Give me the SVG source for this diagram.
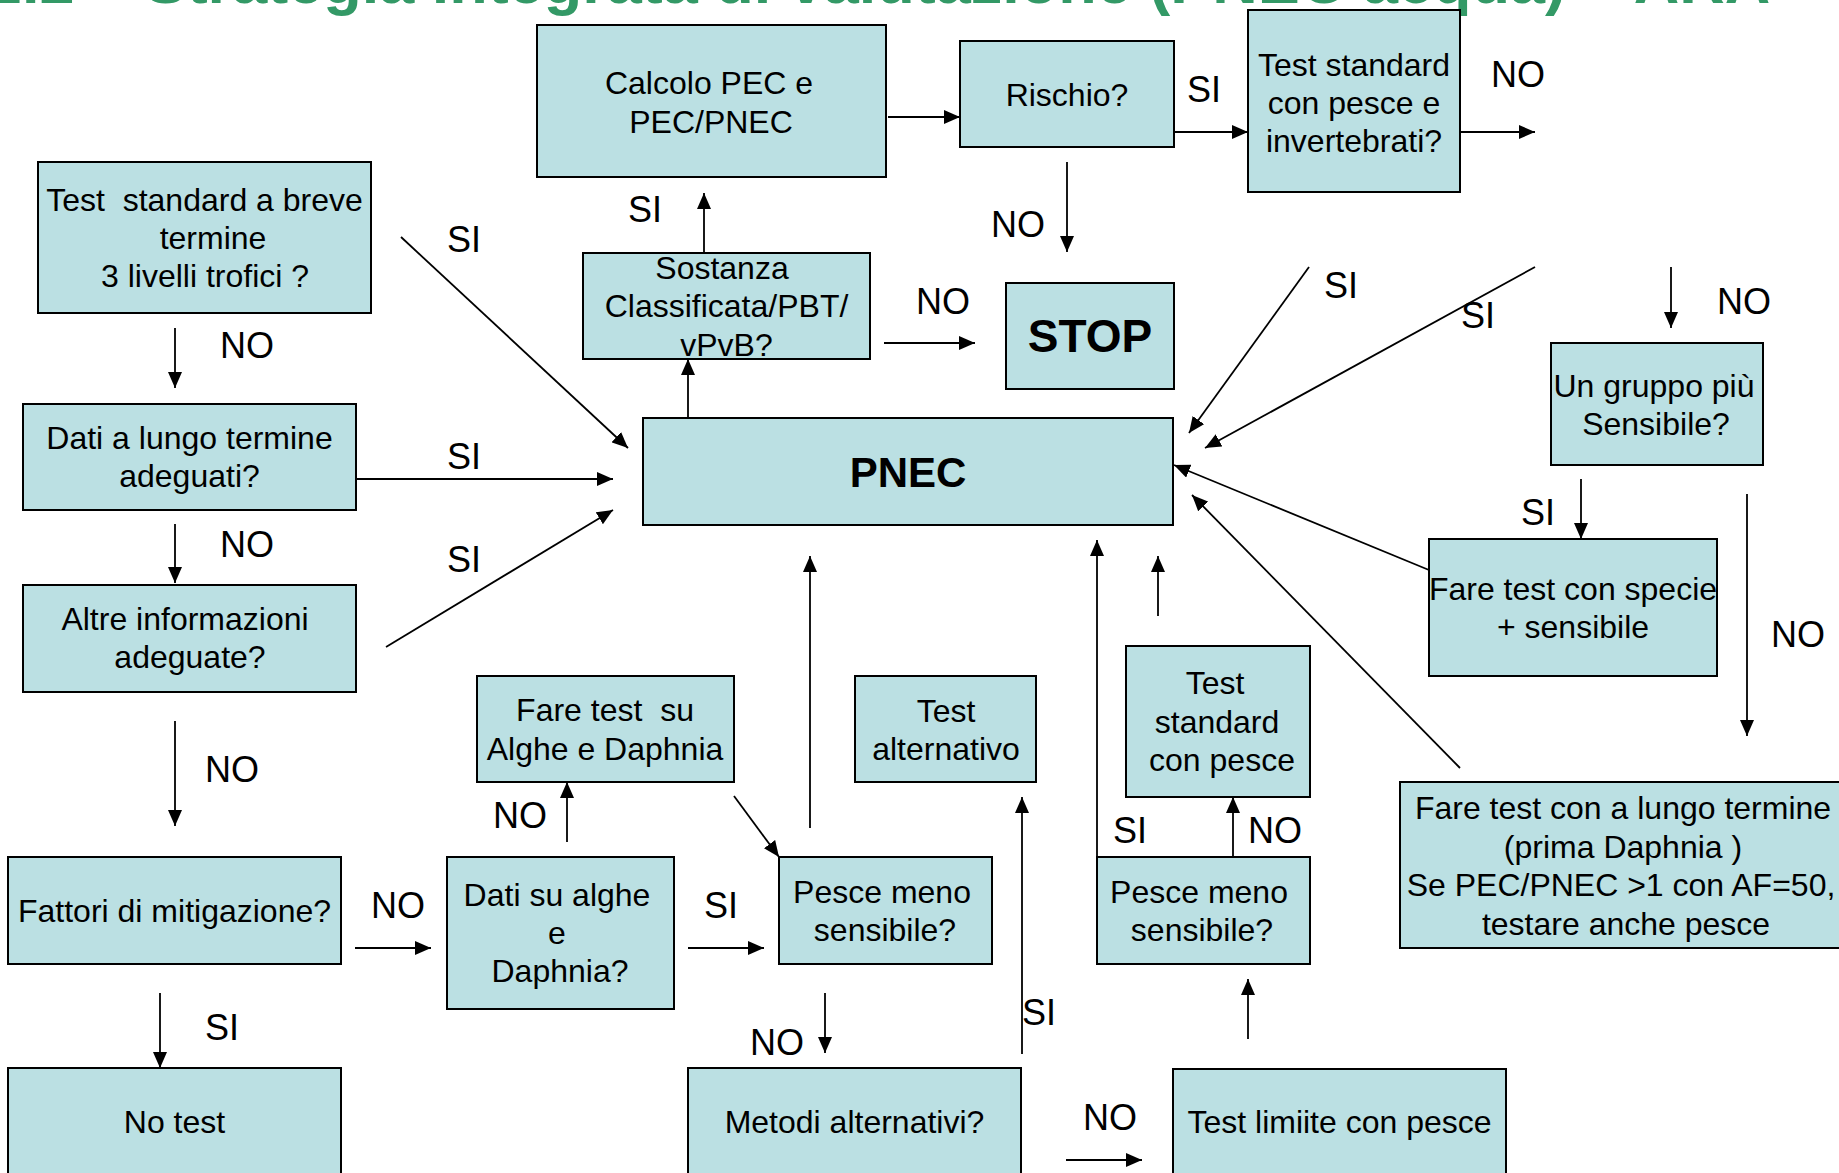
<svg xmlns="http://www.w3.org/2000/svg" width="1839" height="1173" viewBox="0 0 1839 1173">
<defs>
<style>
.box{fill:#BBE0E3;stroke:#000;stroke-width:2}
.t{font-family:"Liberation Sans",Arial,sans-serif;font-size:32px;fill:#000;text-anchor:middle}
.b{font-family:"Liberation Sans",Arial,sans-serif;font-weight:bold;fill:#000;text-anchor:middle}
.lbl{font-family:"Liberation Sans",Arial,sans-serif;font-size:36px;fill:#000}
.ln{stroke:#000;stroke-width:1.8;fill:none}
.a{marker-end:url(#ah)}
.title{font-family:"Liberation Sans",Arial,sans-serif;font-weight:bold;font-size:63px;fill:#339966}
</style>
<marker id="ah" markerUnits="userSpaceOnUse" markerWidth="16" markerHeight="14" refX="16" refY="7" orient="auto">
<path d="M0,0 L16,7 L0,14 z" fill="#000"/>
</marker>
</defs>
<rect width="1839" height="1173" fill="#fff"/>
<text class="title" x="-13" y="3" xml:space="preserve">2.2 – Strategia integrata di valutazione (PNEC acqua) – ARA</text>

<g id="connectors">
<line class="ln a" x1="888" y1="117" x2="960" y2="117"/>
<line class="ln a" x1="1174" y1="132" x2="1248" y2="132"/>
<line class="ln a" x1="1460" y1="132" x2="1535" y2="132"/>
<line class="ln a" x1="1067" y1="162" x2="1067" y2="252"/>
<line class="ln a" x1="884" y1="343" x2="975" y2="343"/>
<line class="ln a" x1="704" y1="253" x2="704" y2="193"/>
<line class="ln a" x1="688" y1="418" x2="688" y2="359"/>
<line class="ln a" x1="175" y1="328" x2="175" y2="388"/>
<line class="ln a" x1="175" y1="524" x2="175" y2="583"/>
<line class="ln a" x1="175" y1="721" x2="175" y2="826"/>
<line class="ln a" x1="160" y1="993" x2="160" y2="1068"/>
<line class="ln a" x1="355" y1="948" x2="431" y2="948"/>
<line class="ln a" x1="567" y1="842" x2="567" y2="782"/>
<line class="ln a" x1="688" y1="948" x2="764" y2="948"/>
<line class="ln a" x1="734" y1="796" x2="779" y2="857"/>
<line class="ln a" x1="810" y1="828" x2="810" y2="556"/>
<line class="ln a" x1="825" y1="993" x2="825" y2="1053"/>
<line class="ln a" x1="1022" y1="1054" x2="1022" y2="797"/>
<line class="ln a" x1="1066" y1="1160" x2="1142" y2="1160"/>
<line class="ln a" x1="1248" y1="1039" x2="1248" y2="979"/>
<line class="ln a" x1="1233" y1="857" x2="1233" y2="797"/>
<line class="ln a" x1="1097" y1="857" x2="1097" y2="540"/>
<line class="ln a" x1="1158" y1="616" x2="1158" y2="556"/>
<line class="ln a" x1="401" y1="237" x2="628" y2="448"/>
<line class="ln a" x1="356" y1="479" x2="613" y2="479"/>
<line class="ln a" x1="386" y1="647" x2="613" y2="510"/>
<line class="ln a" x1="1309" y1="267" x2="1189" y2="433"/>
<line class="ln a" x1="1535" y1="267" x2="1205" y2="448"/>
<line class="ln a" x1="1671" y1="267" x2="1671" y2="328"/>
<line class="ln a" x1="1581" y1="479" x2="1581" y2="539"/>
<line class="ln a" x1="1429" y1="570" x2="1174" y2="465"/>
<line class="ln a" x1="1747" y1="494" x2="1747" y2="736"/>
<line class="ln a" x1="1460" y1="768" x2="1192" y2="495"/>
</g>

<g id="labels">
<text class="lbl" x="628" y="222">SI</text>
<text class="lbl" x="447" y="252">SI</text>
<text class="lbl" x="220" y="358">NO</text>
<text class="lbl" x="447" y="469">SI</text>
<text class="lbl" x="220" y="557">NO</text>
<text class="lbl" x="447" y="572">SI</text>
<text class="lbl" x="205" y="782">NO</text>
<text class="lbl" x="371" y="918">NO</text>
<text class="lbl" x="205" y="1040">SI</text>
<text class="lbl" x="493" y="828">NO</text>
<text class="lbl" x="704" y="918">SI</text>
<text class="lbl" x="750" y="1055">NO</text>
<text class="lbl" x="1022" y="1025">SI</text>
<text class="lbl" x="1083" y="1130">NO</text>
<text class="lbl" x="1113" y="843">SI</text>
<text class="lbl" x="1248" y="843">NO</text>
<text class="lbl" x="1187" y="102">SI</text>
<text class="lbl" x="1491" y="87">NO</text>
<text class="lbl" x="991" y="237">NO</text>
<text class="lbl" x="916" y="314">NO</text>
<text class="lbl" x="1324" y="298">SI</text>
<text class="lbl" x="1461" y="328">SI</text>
<text class="lbl" x="1717" y="314">NO</text>
<text class="lbl" x="1521" y="525">SI</text>
<text class="lbl" x="1771" y="647">NO</text>
</g>

<g id="calcolo"><rect class="box" x="537" y="25" width="349" height="152"/>
<text class="t"><tspan x="709" y="94">Calcolo PEC e</tspan><tspan x="711" y="132.5">PEC/PNEC</tspan></text></g>

<g id="rischio"><rect class="box" x="960" y="41" width="214" height="106"/>
<text class="t" x="1067" y="106">Rischio?</text></g>

<g id="test-std-pesce-inv"><rect class="box" x="1248" y="10" width="212" height="182"/>
<text class="t"><tspan x="1354" y="76">Test standard</tspan><tspan x="1354" y="114">con pesce e</tspan><tspan x="1354" y="152">invertebrati?</tspan></text></g>

<g id="test-breve"><rect class="box" x="38" y="162" width="333" height="151"/>
<text class="t" xml:space="preserve"><tspan x="204.5" y="211">Test  standard a breve</tspan><tspan x="213" y="249">termine</tspan><tspan x="205" y="287">3 livelli trofici ?</tspan></text></g>

<g id="sostanza"><rect class="box" x="583" y="253" width="287" height="106"/>
<text class="t"><tspan x="722" y="278.5">Sostanza</tspan><tspan x="726.5" y="317">Classificata/PBT/</tspan><tspan x="726.5" y="355.5">vPvB?</tspan></text></g>

<g id="stop"><rect class="box" x="1006" y="283" width="168" height="106"/>
<text class="b" x="1090" y="352" font-size="46">STOP</text></g>

<g id="pnec"><rect class="box" x="643" y="418" width="530" height="107"/>
<text class="b" x="908" y="487" font-size="42">PNEC</text></g>

<g id="dati-lungo"><rect class="box" x="23" y="404" width="333" height="106"/>
<text class="t"><tspan x="189.5" y="449">Dati a lungo termine</tspan><tspan x="189.5" y="487">adeguati?</tspan></text></g>

<g id="altre"><rect class="box" x="23" y="585" width="333" height="107"/>
<text class="t"><tspan x="185" y="630">Altre informazioni</tspan><tspan x="190" y="668">adeguate?</tspan></text></g>

<g id="fattori"><rect class="box" x="8" y="857" width="333" height="107"/>
<text class="t" x="174.5" y="922">Fattori di mitigazione?</text></g>

<g id="no-test"><rect class="box" x="8" y="1068" width="333" height="120"/>
<text class="t" x="174.5" y="1132.5">No test</text></g>

<g id="fare-alghe"><rect class="box" x="477" y="676" width="257" height="106"/>
<text class="t" xml:space="preserve"><tspan x="605" y="720.5">Fare test  su</tspan><tspan x="605" y="760">Alghe e Daphnia</tspan></text></g>

<g id="dati-alghe"><rect class="box" x="447" y="857" width="227" height="152"/>
<text class="t"><tspan x="557" y="906">Dati su alghe</tspan><tspan x="557" y="944">e</tspan><tspan x="560" y="982">Daphnia?</tspan></text></g>

<g id="pesce1"><rect class="box" x="779" y="857" width="213" height="107"/>
<text class="t"><tspan x="882" y="903">Pesce meno</tspan><tspan x="885" y="941">sensibile?</tspan></text></g>

<g id="test-alt"><rect class="box" x="855" y="676" width="181" height="106"/>
<text class="t"><tspan x="946" y="721.5">Test</tspan><tspan x="946" y="760">alternativo</tspan></text></g>

<g id="metodi"><rect class="box" x="688" y="1068" width="333" height="120"/>
<text class="t" x="854.5" y="1132.5">Metodi alternativi?</text></g>

<g id="test-std-pesce"><rect class="box" x="1126" y="646" width="184" height="151"/>
<text class="t"><tspan x="1215" y="694">Test</tspan><tspan x="1217" y="732.5">standard</tspan><tspan x="1222" y="771">con pesce</tspan></text></g>

<g id="pesce2"><rect class="box" x="1097" y="857" width="213" height="107"/>
<text class="t"><tspan x="1199" y="903">Pesce meno</tspan><tspan x="1202" y="941">sensibile?</tspan></text></g>

<g id="test-limite"><rect class="box" x="1173" y="1069" width="333" height="120"/>
<text class="t" x="1339.5" y="1132.5">Test limiite con pesce</text></g>

<g id="un-gruppo"><rect class="box" x="1551" y="343" width="212" height="122"/>
<text class="t"><tspan x="1654" y="397">Un gruppo più</tspan><tspan x="1656" y="435">Sensibile?</tspan></text></g>

<g id="fare-specie"><rect class="box" x="1429" y="539" width="288" height="137"/>
<text class="t"><tspan x="1573" y="600">Fare test con specie</tspan><tspan x="1573" y="638">+ sensibile</tspan></text></g>

<g id="fare-lungo"><rect class="box" x="1400" y="782" width="450" height="166"/>
<text class="t"><tspan x="1623" y="819">Fare test con a lungo termine</tspan><tspan x="1623" y="857.5">(prima Daphnia )</tspan><tspan x="1621" y="896">Se PEC/PNEC &gt;1 con AF=50,</tspan><tspan x="1626" y="934.5">testare anche pesce</tspan></text></g>
</svg>
